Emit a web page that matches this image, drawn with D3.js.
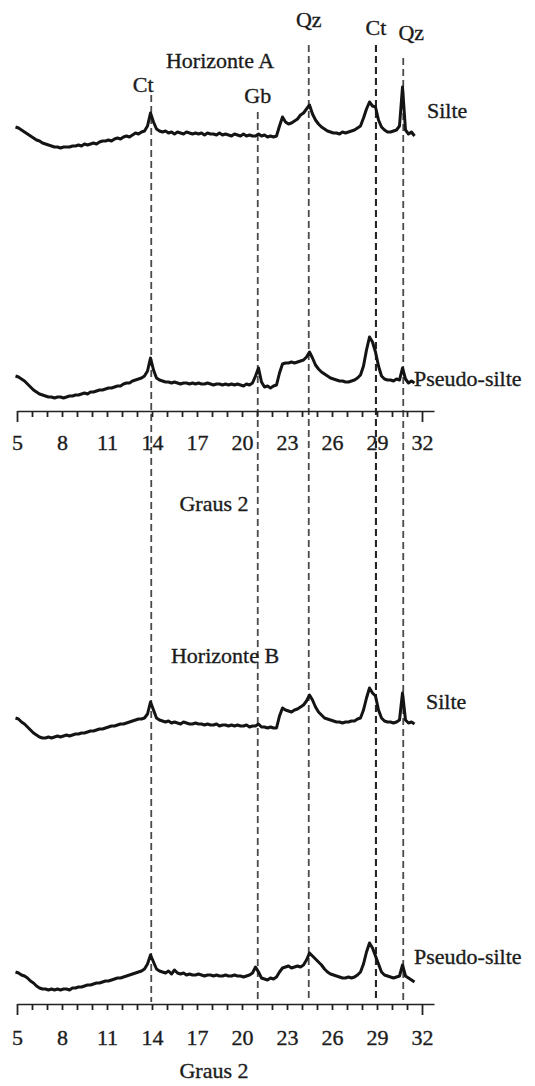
<!DOCTYPE html>
<html>
<head>
<meta charset="utf-8">
<script src="https://cdn.jsdelivr.net/npm/d3@7"></script>
<style>
  html, body { margin: 0; padding: 0; background: #fff; }
  svg text { font-family: "Liberation Serif", "Times New Roman", serif; fill: #1c1c1c; stroke: #1c1c1c; stroke-width: 0.35px; }
</style>
</head>
<body>
<svg id="chart" width="535" height="1086"></svg>
<script>
// 2θ sampling grid (degrees) shared by the four diffractograms
const twoTheta = [
  4.9,5.1,5.3,5.5,5.7,5.9,6.1,6.3,6.5,6.7,
  6.9,7.1,7.3,7.5,7.7,7.9,8.1,8.3,8.5,8.7,
  8.9,9.1,9.3,9.5,9.7,9.9,10.1,10.3,10.5,10.7,
  10.9,11.1,11.3,11.5,11.7,11.9,12.1,12.3,12.5,12.7,
  12.9,13.1,13.3,13.5,13.7,13.9,14.1,14.3,14.5,14.7,
  14.9,15.1,15.3,15.5,15.7,15.9,16.1,16.3,16.5,16.7,
  16.9,17.1,17.3,17.5,17.7,17.9,18.1,18.3,18.5,18.7,
  18.9,19.1,19.3,19.5,19.7,19.9,20.1,20.3,20.5,20.7,
  20.9,21.1,21.3,21.5,21.7,21.9,22.1,22.3,22.5,22.7,
  22.9,23.1,23.3,23.5,23.7,23.9,24.1,24.3,24.5,24.7,
  24.9,25.1,25.3,25.5,25.7,25.9,26.1,26.3,26.5,26.7,
  26.9,27.1,27.3,27.5,27.7,27.9,28.1,28.3,28.5,28.7,
  28.9,29.1,29.3,29.5,29.7,29.9,30.1,30.3,30.5,30.7,
  30.9,31.1,31.3,31.5
];

// Horizonte A – silte (relative intensity, a.u.)
const silteA = [
  23,22,20,18,16,14,12,10,9,7,
  6,5,4,3,3,2,3,3,3,4,
  4,5,4,6,5,6,7,6,8,9,
  9,10,9,11,12,11,13,14,13,15,
  17,16,18,19,24,37,28,21,19,18,
  19,17,18,16,18,17,16,18,17,16,
  17,16,17,15,17,16,16,15,17,15,
  16,15,14,16,15,14,16,14,15,14,
  14,16,14,15,13,14,13,14,24,33,
  28,26,27,29,31,35,37,41,45,36,
  30,26,23,21,19,18,17,17,16,18,
  17,18,19,20,22,24,32,41,48,44,
  43,30,23,20,18,18,19,20,24,63,
  20,16,18,14
];

// Horizonte A – pseudo-silte
const pseudoA = [
  24,23,21,19,16,13,10,8,6,5,
  4,3,3,2,3,3,2,3,4,4,
  5,5,6,7,6,8,8,9,10,10,
  11,12,12,13,14,14,16,17,17,19,
  20,21,22,24,29,42,30,22,20,19,
  18,18,17,18,17,16,17,17,16,17,
  16,17,16,16,17,16,15,16,16,15,
  16,15,16,15,16,15,14,16,15,17,
  24,32,18,13,14,12,14,15,27,36,
  37,37,38,37,38,39,40,43,48,42,
  35,31,28,26,24,22,21,20,19,19,
  18,18,19,20,22,25,34,50,63,58,
  48,34,24,21,20,20,19,21,20,32,
  21,17,19,17
];

// Horizonte B – silte
const silteB = [
  22,21,18,16,13,10,7,5,3,2,
  2,3,2,3,4,3,4,5,4,5,
  6,6,7,7,8,9,9,10,11,11,
  12,13,14,14,15,16,16,17,18,19,
  20,21,21,22,26,38,30,22,20,19,
  18,19,17,18,17,16,18,17,16,16,
  17,16,16,15,16,15,15,16,14,15,
  15,14,15,14,15,14,14,15,13,14,
  14,16,13,13,12,13,12,12,24,32,
  30,29,28,30,31,33,35,39,45,40,
  33,28,25,22,21,20,19,18,18,17,
  18,18,19,19,21,22,30,42,52,47,
  44,30,22,19,18,18,17,18,20,47,
  20,17,18,16
];

// Horizonte B – pseudo-silte
const pseudoB = [
  20,19,17,16,14,11,9,6,4,3,
  3,2,3,2,3,2,3,3,2,4,
  4,5,5,6,7,7,8,9,9,10,
  11,11,12,13,14,14,15,16,17,18,
  19,20,21,23,28,37,30,23,21,20,
  19,21,18,22,19,18,19,17,18,17,
  17,18,17,16,17,17,16,17,16,16,
  17,16,16,17,16,16,15,16,17,19,
  25,20,14,13,12,14,13,15,20,24,
  25,26,24,25,26,25,27,32,39,36,
  33,30,27,23,20,18,17,16,15,14,
  14,15,14,15,17,20,28,40,49,44,
  36,28,20,17,16,15,14,15,16,27,
  16,14,12,10
];

// Mineral reflections marked by dashed lines
const minerals     = ["Ct", "Gb", "Qz", "Ct", "Qz"];
const mineralTheta = [13.95, 21.05, 24.45, 28.93, 30.75];

// Axis ticks (one per degree) and labelled values
const tickValues = [5,6,7,8,9,10,11,12,13,14,15,16,17,18,19,20,21,22,23,24,25,26,27,28,29,30,31,32];
const tickLabels = [5,8,11,14,17,20,23,26,29,32];

const svg = d3.select("#chart");
const FONT = 22;
const INK = "#141414";

// horizontal scale: 2θ in degrees; line continues a little past 32
const x = d3.scaleLinear().domain([5, 32.8]).range([17, 434]);

// ---- dashed reflection markers ----
const markerLayout = [
  { labelY: 92,  dx: -8, top: 95 },
  { labelY: 103, dx: 0,  top: 112 },
  { labelY: 27,  dx: 0,  top: 45 },
  { labelY: 35,  dx: 0,  top: 45 },
  { labelY: 40,  dx: 8,  top: 58 }
];
const markerBottom = 1002;

const markers = svg.append("g").attr("class", "markers");
minerals.forEach((m, i) => {
  const L = markerLayout[i];
  const xi = x(mineralTheta[i]);
  markers.append("line")
    .attr("x1", xi).attr("x2", xi)
    .attr("y1", L.top).attr("y2", markerBottom)
    .attr("stroke", i === 3 ? "#262626" : "#4a4a4a")
    .attr("stroke-width", i === 3 ? 2.1 : 1.8)
    .attr("stroke-dasharray", "7,4");
  markers.append("text")
    .attr("x", xi + L.dx).attr("y", L.labelY)
    .attr("text-anchor", "middle")
    .style("font-size", FONT + "px")
    .text(m);
});

// ---- diffractogram traces ----
const traces = [
  { values: silteA,  base: 150, name: "Silte",        labelX: 427, labelY: 118 },
  { values: pseudoA, base: 400, name: "Pseudo-silte", labelX: 414, labelY: 386 },
  { values: silteB,  base: 740, name: "Silte",        labelX: 426, labelY: 709 },
  { values: pseudoB, base: 992, name: "Pseudo-silte", labelX: 414, labelY: 964 }
];

traces.forEach(t => {
  const y = d3.scaleLinear().domain([0, 100]).range([t.base, t.base - 100]);
  const line = d3.line()
    .x((d, i) => x(twoTheta[i]))
    .y(d => y(d))
    .curve(d3.curveLinear);
  svg.append("path")
    .datum(t.values)
    .attr("d", line)
    .attr("fill", "none")
    .attr("stroke", INK)
    .attr("stroke-width", 3)
    .attr("stroke-linejoin", "round");
  svg.append("text")
    .attr("x", t.labelX).attr("y", t.labelY)
    .style("font-size", FONT + "px")
    .text(t.name);
});

// ---- panel titles ----
const titles = [
  { text: "Horizonte A", x: 220, y: 68 },
  { text: "Horizonte B", x: 225, y: 663 }
];
titles.forEach(t => {
  svg.append("text").attr("x", t.x).attr("y", t.y)
    .attr("text-anchor", "middle").style("font-size", FONT + "px").text(t.text);
});

// ---- 2θ axes ----
const axes = [
  { y: 411, labelY: 450, titleY: 511, titleX: 214 },
  { y: 1004, labelY: 1045, titleY: 1078, titleX: 214 }
];
axes.forEach(a => {
  const g = svg.append("g").attr("transform", `translate(0,${a.y})`);
  g.call(
    d3.axisBottom(x)
      .tickValues(tickValues)
      .tickSize(6)
      .tickSizeOuter(0)
      .tickFormat(d => tickLabels.includes(d) ? d : "")
  );
  g.attr("font-family", null).attr("font-size", null);
  g.select(".domain").attr("stroke", "#222").attr("stroke-width", 1.6);
  g.selectAll(".tick line")
    .attr("stroke", "#222").attr("stroke-width", 1.8)
    .attr("y2", d => (d === 5 || d === 32) ? 11 : 6);
  g.selectAll(".tick text")
    .attr("y", a.labelY - a.y).attr("dy", 0)
    .style("font-size", FONT + "px")
    .attr("fill", "#1c1c1c");
  svg.append("text").attr("x", a.titleX).attr("y", a.titleY)
    .attr("text-anchor", "middle").style("font-size", FONT + "px").text("Graus 2");
});
</script>
</body>
</html>
